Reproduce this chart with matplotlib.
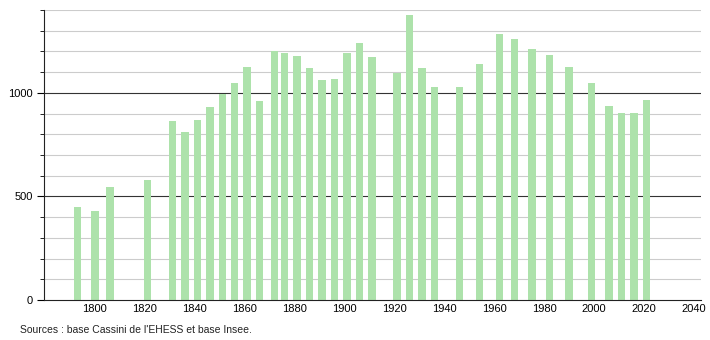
import matplotlib
matplotlib.use("Agg")
from matplotlib import pyplot as plt
from matplotlib.ticker import MultipleLocator

plt.rcParams['font.family'] = ['Liberation Sans', 'DejaVu Sans']

years = [1793, 1800, 1806, 1821, 1831, 1836, 1841, 1846, 1851, 1856,
         1861, 1866, 1872, 1876, 1881, 1886, 1891, 1896, 1901, 1906,
         1911, 1921, 1926, 1931, 1936, 1946, 1954, 1962, 1968, 1975,
         1982, 1990, 1999, 2006, 2011, 2016, 2021]
population = [449, 432, 544, 581, 862, 809, 867, 931, 993, 1046,
              1127, 959, 1200, 1191, 1177, 1119, 1060, 1069, 1191, 1241,
              1172, 1098, 1375, 1119, 1030, 1027, 1138, 1283, 1259, 1214,
              1182, 1127, 1046, 935, 904, 904, 964]
x_ticks = [1800, 1820, 1840, 1860, 1880, 1900, 1920, 1940, 1960, 1980, 2000, 2020, 2040]
source = "Sources : base Cassini de l'EHESS et base Insee."

fig = plt.figure(figsize=(7.1, 3.4), dpi=100)
ax = fig.add_axes([0.062, 0.1176, 0.925, 0.853])

# light grid every 100, darker at 500 / 1000
for v in range(100, 1500, 100):
    if v % 500 == 0:
        ax.axhline(v, color='#333333', lw=0.8, zorder=1)
    else:
        ax.axhline(v, color='#cccccc', lw=0.8, zorder=1)

ax.bar(years, population, width=3.0, color='#ade2ab', zorder=2)

ax.set_xlim(1779.6, 2042.7)
ax.set_ylim(0, 1400)
ax.set_xticks(x_ticks)
ax.set_yticks([0, 500, 1000])
ax.yaxis.set_minor_locator(MultipleLocator(100))
ax.tick_params(axis='x', length=0, labelsize=8, pad=3)
ax.tick_params(axis='y', which='major', length=5, labelsize=8, pad=3)
ax.tick_params(axis='y', which='minor', length=3)

for s in ['top', 'right']:
    ax.spines[s].set_visible(False)
ax.spines['left'].set_color('#222222')
ax.spines['bottom'].set_color('#222222')

fig.text(0.028, 0.02, source, fontsize=7.5, color='#222222')

fig.savefig('out.png', dpi=100)
